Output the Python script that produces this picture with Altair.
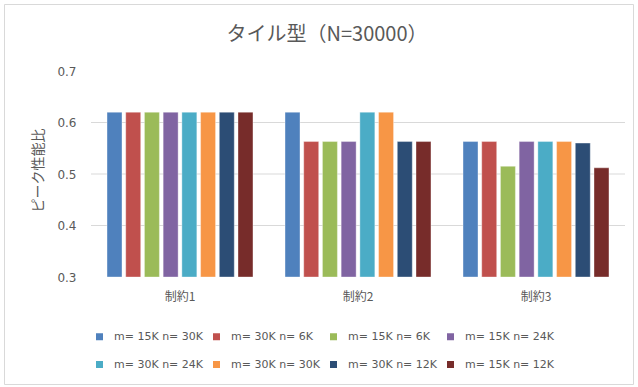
import altair as alt
import pandas as pd

# Constraint groups on the x axis
categories = ["制約1", "制約2", "制約3"]

# Tile-size settings (one bar per setting in each group)
series = [
    "m= 15K n= 30K",
    "m= 30K n= 6K",
    "m= 15K n= 6K",
    "m= 15K n= 24K",
    "m= 30K n= 24K",
    "m= 30K n= 30K",
    "m= 30K n= 12K",
    "m= 15K n= 12K",
]

# Peak performance ratio per setting, one list per constraint
ratio_c1 = [0.620, 0.620, 0.620, 0.620, 0.620, 0.620, 0.620, 0.620]
ratio_c2 = [0.620, 0.563, 0.563, 0.563, 0.620, 0.620, 0.563, 0.563]
ratio_c3 = [0.563, 0.563, 0.515, 0.563, 0.563, 0.563, 0.560, 0.512]

# Horizontal gridlines drawn inside the plot
grid_values = [0.4, 0.5, 0.6]
y_ticks = [0.3, 0.4, 0.5, 0.6, 0.7]

colors = ["#4F81BD", "#C0504D", "#9BBB59", "#8064A2",
          "#4BACC6", "#F79646", "#2C4D75", "#772C2A"]

rows = []
for cat, vals in zip(categories, [ratio_c1, ratio_c2, ratio_c3]):
    for s, v in zip(series, vals):
        rows.append({"constraint": cat, "setting": s, "ratio": v})
df = pd.DataFrame(rows)

GRAY = "#595959"
CJK = "Noto Sans CJK JP"

yscale = alt.Scale(domain=[0.3, 0.7], zero=False, nice=False)
yaxis = alt.Axis(
    title="ピーク性能比",
    values=y_ticks,
    format=".1f",
    ticks=False, domain=False, grid=False,
    labelFont="DejaVu Sans", labelFontSize=12, labelColor=GRAY,
    labelPadding=15,
    titleFont=CJK, titleFontSize=14, titleFontWeight="normal",
    titleColor=GRAY, titleX=-53, titleY=99,
    titleAlign="center", titleBaseline="middle",
)

grid = alt.Chart(pd.DataFrame({"ratio": grid_values})).mark_rule(
    color="#d9d9d9", strokeWidth=1
).encode(y=alt.Y("ratio:Q", scale=yscale, axis=yaxis))

bars = alt.Chart(df).mark_bar(stroke="white", strokeWidth=0.6, strokeOpacity=0.6).encode(
    x=alt.X(
        "constraint:N",
        sort=categories,
        scale=alt.Scale(paddingInner=0.18, paddingOuter=0.09),
        axis=alt.Axis(
            title=None, labelAngle=0, ticks=False, domain=False,
            labelFont=CJK, labelFontSize=12, labelColor=GRAY, labelPadding=14,
        ),
    ),
    xOffset=alt.XOffset(
        "setting:N", sort=series,
        scale=alt.Scale(paddingInner=0.2, paddingOuter=0),
    ),
    y=alt.Y("ratio:Q", scale=yscale, axis=yaxis),
    y2=alt.datum(0.3),
    color=alt.Color(
        "setting:N",
        sort=series,
        scale=alt.Scale(domain=series, range=colors),
        legend=alt.Legend(
            title=None, orient="none", legendX=3, legendY=260,
            direction="horizontal", columns=4, gridAlign="all",
            symbolType="square", symbolSize=49, symbolStrokeWidth=0,
            labelFont="DejaVu Sans", labelFontSize=11, labelColor=GRAY,
            labelOffset=9, columnPadding=7, rowPadding=16, padding=0,
        ),
    ),
)

# Thin frame around the whole chart
frame = alt.Chart(pd.DataFrame({"f": [0]})).mark_rect(
    fill=None, stroke="#d9d9d9", strokeWidth=1
).encode(
    x=alt.value(-86.5), x2=alt.value(542.5),
    y=alt.value(-66.5), y2=alt.value(313.5),
)

chart = alt.layer(frame, grid, bars).properties(
    width=534,
    height=206,
    background="white",
    padding={"left": 91, "top": 71, "right": 13, "bottom": 110},
    autosize=alt.AutoSizeParams(type="none"),
    title=alt.Title(
        "タイル型（N=30000）",
        font=CJK, fontSize=20, fontWeight="normal", color=GRAY,
        anchor="middle", dx=-31, offset=-41,
    ),
).configure_view(stroke=None)

chart.save("out.html", embed_options={"renderer": "svg", "actions": False})
